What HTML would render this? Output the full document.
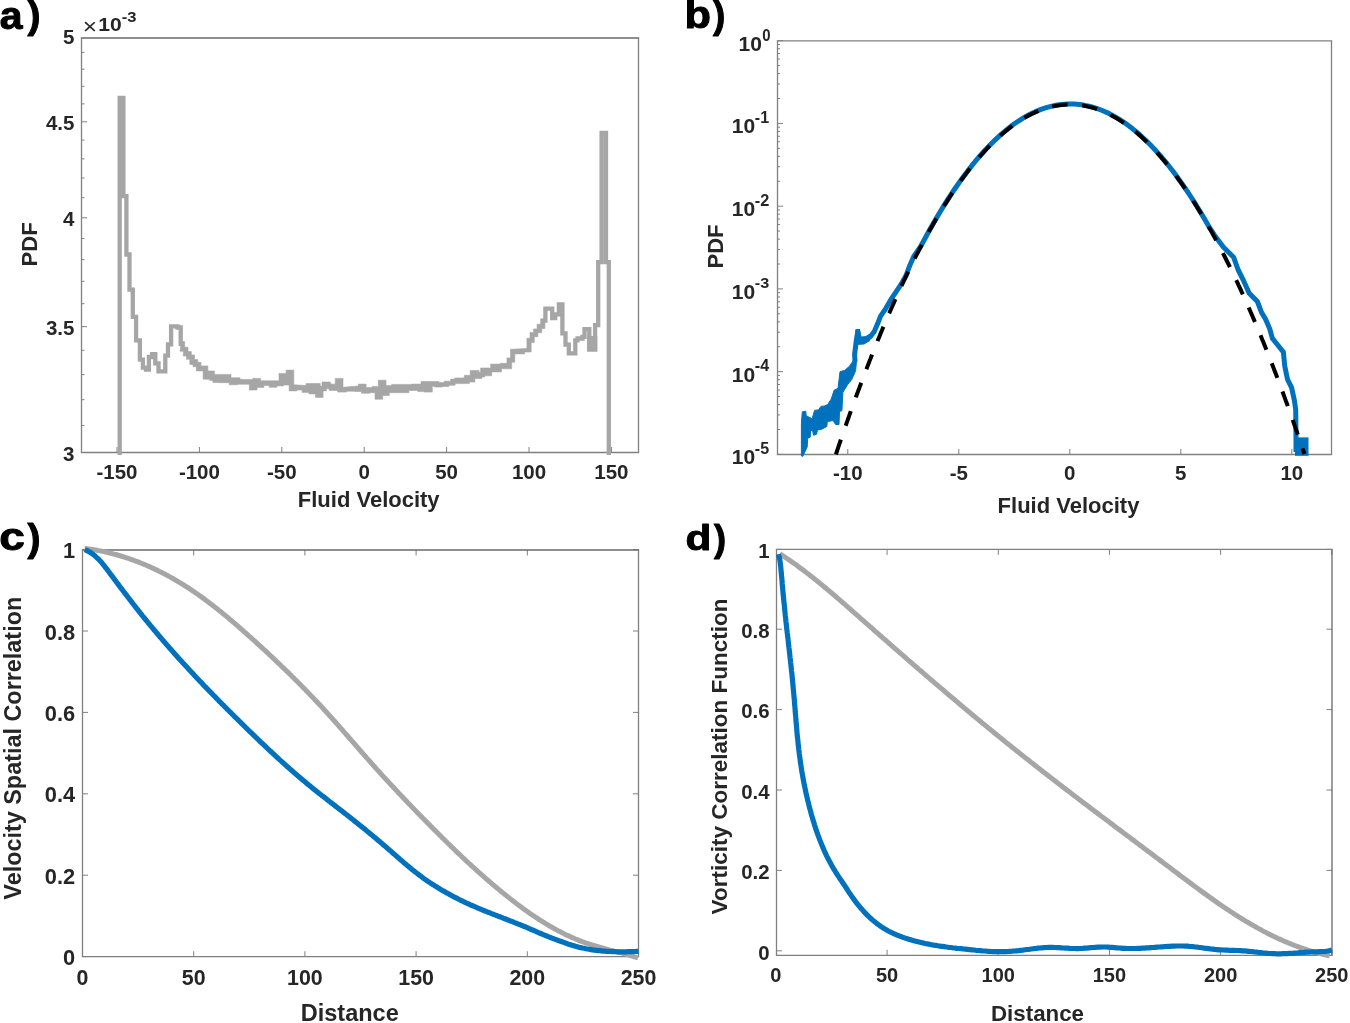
<!DOCTYPE html>
<html><head><meta charset="utf-8"><style>
html,body{margin:0;padding:0;background:#fff;width:1350px;height:1023px;overflow:hidden;}
svg{display:block;}
text{font-family:"Liberation Sans",sans-serif;}
svg{will-change:transform;}
</style></head><body>
<svg width="1350" height="1023" viewBox="0 0 1350 1023" font-family="Liberation Sans, sans-serif"><line x1="117.00" y1="452.50" x2="117.00" y2="447.00" stroke="#808080" stroke-width="1"/>
<line x1="199.40" y1="452.50" x2="199.40" y2="447.00" stroke="#808080" stroke-width="1"/>
<line x1="281.80" y1="452.50" x2="281.80" y2="447.00" stroke="#808080" stroke-width="1"/>
<line x1="364.20" y1="452.50" x2="364.20" y2="447.00" stroke="#808080" stroke-width="1"/>
<line x1="446.60" y1="452.50" x2="446.60" y2="447.00" stroke="#808080" stroke-width="1"/>
<line x1="529.00" y1="452.50" x2="529.00" y2="447.00" stroke="#808080" stroke-width="1"/>
<line x1="611.40" y1="452.50" x2="611.40" y2="447.00" stroke="#808080" stroke-width="1"/>
<line x1="81.50" y1="326.65" x2="87.00" y2="326.65" stroke="#808080" stroke-width="1"/>
<line x1="81.50" y1="217.80" x2="87.00" y2="217.80" stroke="#808080" stroke-width="1"/>
<line x1="81.50" y1="121.79" x2="87.00" y2="121.79" stroke="#808080" stroke-width="1"/>
<line x1="81.50" y1="425.58" x2="84.50" y2="425.58" stroke="#808080" stroke-width="1"/>
<line x1="81.50" y1="399.70" x2="84.50" y2="399.70" stroke="#808080" stroke-width="1"/>
<line x1="81.50" y1="374.62" x2="84.50" y2="374.62" stroke="#808080" stroke-width="1"/>
<line x1="81.50" y1="350.28" x2="84.50" y2="350.28" stroke="#808080" stroke-width="1"/>
<line x1="81.50" y1="303.69" x2="84.50" y2="303.69" stroke="#808080" stroke-width="1"/>
<line x1="81.50" y1="281.35" x2="84.50" y2="281.35" stroke="#808080" stroke-width="1"/>
<line x1="81.50" y1="259.61" x2="84.50" y2="259.61" stroke="#808080" stroke-width="1"/>
<line x1="81.50" y1="238.44" x2="84.50" y2="238.44" stroke="#808080" stroke-width="1"/>
<line x1="81.50" y1="197.67" x2="84.50" y2="197.67" stroke="#808080" stroke-width="1"/>
<line x1="81.50" y1="178.03" x2="84.50" y2="178.03" stroke="#808080" stroke-width="1"/>
<line x1="81.50" y1="158.85" x2="84.50" y2="158.85" stroke="#808080" stroke-width="1"/>
<line x1="81.50" y1="140.11" x2="84.50" y2="140.11" stroke="#808080" stroke-width="1"/>
<line x1="81.50" y1="103.87" x2="84.50" y2="103.87" stroke="#808080" stroke-width="1"/>
<line x1="81.50" y1="86.34" x2="84.50" y2="86.34" stroke="#808080" stroke-width="1"/>
<line x1="81.50" y1="69.18" x2="84.50" y2="69.18" stroke="#808080" stroke-width="1"/>
<line x1="81.50" y1="52.37" x2="84.50" y2="52.37" stroke="#808080" stroke-width="1"/>
<line x1="847.80" y1="454.50" x2="847.80" y2="449.00" stroke="#808080" stroke-width="1"/>
<line x1="958.80" y1="454.50" x2="958.80" y2="449.00" stroke="#808080" stroke-width="1"/>
<line x1="1069.80" y1="454.50" x2="1069.80" y2="449.00" stroke="#808080" stroke-width="1"/>
<line x1="1180.80" y1="454.50" x2="1180.80" y2="449.00" stroke="#808080" stroke-width="1"/>
<line x1="1291.80" y1="454.50" x2="1291.80" y2="449.00" stroke="#808080" stroke-width="1"/>
<line x1="777.50" y1="454.40" x2="783.00" y2="454.40" stroke="#808080" stroke-width="1"/>
<line x1="777.50" y1="429.49" x2="780.00" y2="429.49" stroke="#808080" stroke-width="1"/>
<line x1="777.50" y1="414.92" x2="780.00" y2="414.92" stroke="#808080" stroke-width="1"/>
<line x1="777.50" y1="404.59" x2="780.00" y2="404.59" stroke="#808080" stroke-width="1"/>
<line x1="777.50" y1="396.57" x2="780.00" y2="396.57" stroke="#808080" stroke-width="1"/>
<line x1="777.50" y1="390.02" x2="780.00" y2="390.02" stroke="#808080" stroke-width="1"/>
<line x1="777.50" y1="384.48" x2="780.00" y2="384.48" stroke="#808080" stroke-width="1"/>
<line x1="777.50" y1="379.68" x2="780.00" y2="379.68" stroke="#808080" stroke-width="1"/>
<line x1="777.50" y1="375.45" x2="780.00" y2="375.45" stroke="#808080" stroke-width="1"/>
<line x1="777.50" y1="371.66" x2="783.00" y2="371.66" stroke="#808080" stroke-width="1"/>
<line x1="777.50" y1="346.75" x2="780.00" y2="346.75" stroke="#808080" stroke-width="1"/>
<line x1="777.50" y1="332.18" x2="780.00" y2="332.18" stroke="#808080" stroke-width="1"/>
<line x1="777.50" y1="321.85" x2="780.00" y2="321.85" stroke="#808080" stroke-width="1"/>
<line x1="777.50" y1="313.83" x2="780.00" y2="313.83" stroke="#808080" stroke-width="1"/>
<line x1="777.50" y1="307.28" x2="780.00" y2="307.28" stroke="#808080" stroke-width="1"/>
<line x1="777.50" y1="301.74" x2="780.00" y2="301.74" stroke="#808080" stroke-width="1"/>
<line x1="777.50" y1="296.94" x2="780.00" y2="296.94" stroke="#808080" stroke-width="1"/>
<line x1="777.50" y1="292.71" x2="780.00" y2="292.71" stroke="#808080" stroke-width="1"/>
<line x1="777.50" y1="288.92" x2="783.00" y2="288.92" stroke="#808080" stroke-width="1"/>
<line x1="777.50" y1="264.01" x2="780.00" y2="264.01" stroke="#808080" stroke-width="1"/>
<line x1="777.50" y1="249.44" x2="780.00" y2="249.44" stroke="#808080" stroke-width="1"/>
<line x1="777.50" y1="239.11" x2="780.00" y2="239.11" stroke="#808080" stroke-width="1"/>
<line x1="777.50" y1="231.09" x2="780.00" y2="231.09" stroke="#808080" stroke-width="1"/>
<line x1="777.50" y1="224.54" x2="780.00" y2="224.54" stroke="#808080" stroke-width="1"/>
<line x1="777.50" y1="219.00" x2="780.00" y2="219.00" stroke="#808080" stroke-width="1"/>
<line x1="777.50" y1="214.20" x2="780.00" y2="214.20" stroke="#808080" stroke-width="1"/>
<line x1="777.50" y1="209.97" x2="780.00" y2="209.97" stroke="#808080" stroke-width="1"/>
<line x1="777.50" y1="206.18" x2="783.00" y2="206.18" stroke="#808080" stroke-width="1"/>
<line x1="777.50" y1="181.27" x2="780.00" y2="181.27" stroke="#808080" stroke-width="1"/>
<line x1="777.50" y1="166.70" x2="780.00" y2="166.70" stroke="#808080" stroke-width="1"/>
<line x1="777.50" y1="156.37" x2="780.00" y2="156.37" stroke="#808080" stroke-width="1"/>
<line x1="777.50" y1="148.35" x2="780.00" y2="148.35" stroke="#808080" stroke-width="1"/>
<line x1="777.50" y1="141.80" x2="780.00" y2="141.80" stroke="#808080" stroke-width="1"/>
<line x1="777.50" y1="136.26" x2="780.00" y2="136.26" stroke="#808080" stroke-width="1"/>
<line x1="777.50" y1="131.46" x2="780.00" y2="131.46" stroke="#808080" stroke-width="1"/>
<line x1="777.50" y1="127.23" x2="780.00" y2="127.23" stroke="#808080" stroke-width="1"/>
<line x1="777.50" y1="123.44" x2="783.00" y2="123.44" stroke="#808080" stroke-width="1"/>
<line x1="777.50" y1="98.53" x2="780.00" y2="98.53" stroke="#808080" stroke-width="1"/>
<line x1="777.50" y1="83.96" x2="780.00" y2="83.96" stroke="#808080" stroke-width="1"/>
<line x1="777.50" y1="73.63" x2="780.00" y2="73.63" stroke="#808080" stroke-width="1"/>
<line x1="777.50" y1="65.61" x2="780.00" y2="65.61" stroke="#808080" stroke-width="1"/>
<line x1="777.50" y1="59.06" x2="780.00" y2="59.06" stroke="#808080" stroke-width="1"/>
<line x1="777.50" y1="53.52" x2="780.00" y2="53.52" stroke="#808080" stroke-width="1"/>
<line x1="777.50" y1="48.72" x2="780.00" y2="48.72" stroke="#808080" stroke-width="1"/>
<line x1="777.50" y1="44.49" x2="780.00" y2="44.49" stroke="#808080" stroke-width="1"/>
<line x1="777.50" y1="40.70" x2="783.00" y2="40.70" stroke="#808080" stroke-width="1"/>
<line x1="82.50" y1="956.70" x2="82.50" y2="951.20" stroke="#808080" stroke-width="1"/>
<line x1="82.50" y1="550.00" x2="82.50" y2="555.50" stroke="#808080" stroke-width="1"/>
<line x1="193.70" y1="956.70" x2="193.70" y2="951.20" stroke="#808080" stroke-width="1"/>
<line x1="193.70" y1="550.00" x2="193.70" y2="555.50" stroke="#808080" stroke-width="1"/>
<line x1="304.90" y1="956.70" x2="304.90" y2="951.20" stroke="#808080" stroke-width="1"/>
<line x1="304.90" y1="550.00" x2="304.90" y2="555.50" stroke="#808080" stroke-width="1"/>
<line x1="416.10" y1="956.70" x2="416.10" y2="951.20" stroke="#808080" stroke-width="1"/>
<line x1="416.10" y1="550.00" x2="416.10" y2="555.50" stroke="#808080" stroke-width="1"/>
<line x1="527.30" y1="956.70" x2="527.30" y2="951.20" stroke="#808080" stroke-width="1"/>
<line x1="527.30" y1="550.00" x2="527.30" y2="555.50" stroke="#808080" stroke-width="1"/>
<line x1="638.50" y1="956.70" x2="638.50" y2="951.20" stroke="#808080" stroke-width="1"/>
<line x1="638.50" y1="550.00" x2="638.50" y2="555.50" stroke="#808080" stroke-width="1"/>
<line x1="82.50" y1="956.60" x2="88.00" y2="956.60" stroke="#808080" stroke-width="1"/>
<line x1="638.50" y1="956.60" x2="633.00" y2="956.60" stroke="#808080" stroke-width="1"/>
<line x1="82.50" y1="875.20" x2="88.00" y2="875.20" stroke="#808080" stroke-width="1"/>
<line x1="638.50" y1="875.20" x2="633.00" y2="875.20" stroke="#808080" stroke-width="1"/>
<line x1="82.50" y1="793.80" x2="88.00" y2="793.80" stroke="#808080" stroke-width="1"/>
<line x1="638.50" y1="793.80" x2="633.00" y2="793.80" stroke="#808080" stroke-width="1"/>
<line x1="82.50" y1="712.40" x2="88.00" y2="712.40" stroke="#808080" stroke-width="1"/>
<line x1="638.50" y1="712.40" x2="633.00" y2="712.40" stroke="#808080" stroke-width="1"/>
<line x1="82.50" y1="631.00" x2="88.00" y2="631.00" stroke="#808080" stroke-width="1"/>
<line x1="638.50" y1="631.00" x2="633.00" y2="631.00" stroke="#808080" stroke-width="1"/>
<line x1="82.50" y1="549.60" x2="88.00" y2="549.60" stroke="#808080" stroke-width="1"/>
<line x1="638.50" y1="549.60" x2="633.00" y2="549.60" stroke="#808080" stroke-width="1"/>
<line x1="776.50" y1="955.30" x2="776.50" y2="949.80" stroke="#808080" stroke-width="1"/>
<line x1="776.50" y1="549.40" x2="776.50" y2="554.90" stroke="#808080" stroke-width="1"/>
<line x1="887.08" y1="955.30" x2="887.08" y2="949.80" stroke="#808080" stroke-width="1"/>
<line x1="887.08" y1="549.40" x2="887.08" y2="554.90" stroke="#808080" stroke-width="1"/>
<line x1="998.26" y1="955.30" x2="998.26" y2="949.80" stroke="#808080" stroke-width="1"/>
<line x1="998.26" y1="549.40" x2="998.26" y2="554.90" stroke="#808080" stroke-width="1"/>
<line x1="1109.44" y1="955.30" x2="1109.44" y2="949.80" stroke="#808080" stroke-width="1"/>
<line x1="1109.44" y1="549.40" x2="1109.44" y2="554.90" stroke="#808080" stroke-width="1"/>
<line x1="1220.62" y1="955.30" x2="1220.62" y2="949.80" stroke="#808080" stroke-width="1"/>
<line x1="1220.62" y1="549.40" x2="1220.62" y2="554.90" stroke="#808080" stroke-width="1"/>
<line x1="1331.80" y1="955.30" x2="1331.80" y2="949.80" stroke="#808080" stroke-width="1"/>
<line x1="1331.80" y1="549.40" x2="1331.80" y2="554.90" stroke="#808080" stroke-width="1"/>
<line x1="776.50" y1="950.80" x2="782.00" y2="950.80" stroke="#808080" stroke-width="1"/>
<line x1="1332.00" y1="950.80" x2="1326.50" y2="950.80" stroke="#808080" stroke-width="1"/>
<line x1="776.50" y1="870.40" x2="782.00" y2="870.40" stroke="#808080" stroke-width="1"/>
<line x1="1332.00" y1="870.40" x2="1326.50" y2="870.40" stroke="#808080" stroke-width="1"/>
<line x1="776.50" y1="790.00" x2="782.00" y2="790.00" stroke="#808080" stroke-width="1"/>
<line x1="1332.00" y1="790.00" x2="1326.50" y2="790.00" stroke="#808080" stroke-width="1"/>
<line x1="776.50" y1="709.60" x2="782.00" y2="709.60" stroke="#808080" stroke-width="1"/>
<line x1="1332.00" y1="709.60" x2="1326.50" y2="709.60" stroke="#808080" stroke-width="1"/>
<line x1="776.50" y1="629.20" x2="782.00" y2="629.20" stroke="#808080" stroke-width="1"/>
<line x1="1332.00" y1="629.20" x2="1326.50" y2="629.20" stroke="#808080" stroke-width="1"/>
<line x1="776.50" y1="549.40" x2="782.00" y2="549.40" stroke="#808080" stroke-width="1"/>
<line x1="1332.00" y1="549.40" x2="1326.50" y2="549.40" stroke="#808080" stroke-width="1"/>
<line x1="80.85" y1="38" x2="639.15" y2="38" stroke="#686868" stroke-width="1.3"/>
<line x1="80.85" y1="452.5" x2="639.15" y2="452.5" stroke="#808080" stroke-width="1.3"/>
<line x1="81.5" y1="38" x2="81.5" y2="452.5" stroke="#808080" stroke-width="1.3"/>
<line x1="638.5" y1="38" x2="638.5" y2="452.5" stroke="#808080" stroke-width="1.3"/>
<line x1="776.85" y1="40.8" x2="1332.15" y2="40.8" stroke="#808080" stroke-width="1.3"/>
<line x1="776.85" y1="454.5" x2="1332.15" y2="454.5" stroke="#808080" stroke-width="1.3"/>
<line x1="777.5" y1="40.8" x2="777.5" y2="454.5" stroke="#808080" stroke-width="1.3"/>
<line x1="1331.5" y1="40.8" x2="1331.5" y2="454.5" stroke="#808080" stroke-width="1.3"/>
<line x1="81.85" y1="550" x2="639.15" y2="550" stroke="#686868" stroke-width="1.3"/>
<line x1="81.85" y1="956.7" x2="639.15" y2="956.7" stroke="#808080" stroke-width="1.3"/>
<line x1="82.5" y1="550" x2="82.5" y2="956.7" stroke="#808080" stroke-width="1.3"/>
<line x1="638.5" y1="550" x2="638.5" y2="956.7" stroke="#808080" stroke-width="1.3"/>
<line x1="775.85" y1="549.4" x2="1332.65" y2="549.4" stroke="#808080" stroke-width="1.3"/>
<line x1="775.85" y1="955.3" x2="1332.65" y2="955.3" stroke="#808080" stroke-width="1.3"/>
<line x1="776.5" y1="549.4" x2="776.5" y2="955.3" stroke="#808080" stroke-width="1.3"/>
<line x1="1332" y1="549.4" x2="1332" y2="955.3" stroke="#686868" stroke-width="1.3"/>
<path d="M181.2,341.6 L184.7,341.6 L184.7,347.2 L188.0,347.2 L188.0,351.6 L191.3,351.6 L191.3,354.9 L194.5,354.9 L194.5,359.6 L197.8,359.6 L197.8,362.3 L201.0,362.3 L201.0,365.9 L207.9,365.9 L207.9,370.9 L214.4,370.9 L214.4,374.4 L231.0,374.4 L231.0,377.7 L239.9,377.7 L239.9,379.2 L244.6,379.5 L244.6,379.5 L252.9,379.5 L252.9,378.3 L255.0,378.3 L255.0,378.4 L260.6,378.4 L260.6,380.8 L279.0,380.8 L279.0,373.4 L286.1,373.4 L286.1,370.1 L293.8,370.1 L293.8,384.7 L306.0,385.6 L306.0,383.5 L320.2,383.5 L320.2,386.1 L322.0,386.1 L322.0,382.0 L330.3,382.0 L330.3,383.8 L335.0,384.4 L335.0,383.2 L335.3,383.2 L335.3,378.4 L343.0,378.4 L343.0,387.3 L358.4,385.9 L358.4,384.1 L366.1,384.1 L366.1,387.6 L372.1,387.6 L372.1,386.4 L378.3,386.4 L378.3,380.2 L386.0,380.2 L386.0,385.6 L391.6,385.6 L391.6,384.4 L405.0,384.4 L405.0,384.4 L411.5,384.4 L411.5,384.1 L421.0,384.1 L421.0,381.5 L438.8,381.5 L438.8,382.4 L444.1,382.4 L444.1,381.2 L450.6,381.2 L450.6,379.1 L454.8,379.1 L454.8,377.9 L464.3,377.9 L464.3,375.3 L470.2,375.3 L470.2,370.5 L479.1,370.5 L479.1,372.6 L480.6,372.6 L480.6,368.0 L490.6,368.0 L490.6,364.1 L500.3,364.1 L500.3,363.3 L507.0,363.3 L507.0,357.9 L510.5,357.9 L510.5,349.3 L526.9,348.5 L526.9,338.3 L530.0,338.3 L530.0,332.4 L533.6,332.4 L533.6,328.9 L537.1,328.9 L537.1,324.2 L540.6,324.2 L540.6,318.8 L543.7,318.8 L546.0,322.7 L544.9,322.7 L544.9,328.5 L541.8,328.5 L541.8,332.8 L537.9,332.8 L537.9,336.7 L534.3,336.7 L534.3,342.6 L531.2,342.6 L531.2,352.0 L524.6,352.0 L524.6,353.9 L514.8,353.9 L514.8,362.2 L511.7,362.2 L511.7,368.8 L501.5,368.8 L501.5,371.9 L491.7,371.9 L491.7,375.8 L484.7,375.8 L484.7,377.0 L482.0,377.0 L482.0,378.4 L474.9,378.4 L474.9,382.1 L469.4,382.1 L469.4,383.6 L455.1,383.6 L455.1,385.3 L448.9,385.3 L448.9,386.5 L442.3,386.5 L442.3,387.1 L434.6,387.1 L434.6,386.2 L432.3,386.2 L432.3,392.1 L424.0,392.1 L424.0,391.6 L417.7,391.6 L417.7,390.4 L408.9,390.4 L408.9,392.7 L389.3,392.7 L389.3,395.6 L382.7,395.6 L382.7,399.2 L375.0,399.2 L375.0,392.7 L369.7,392.7 L369.7,393.3 L361.4,393.3 L361.4,391.5 L354.9,391.5 L354.9,391.2 L346.6,391.2 L346.6,392.1 L337.7,392.1 L337.7,390.4 L329.1,390.4 L329.1,388.8 L326.4,388.8 L326.4,390.9 L323.1,390.9 L323.1,397.4 L315.4,397.4 L315.4,393.9 L308.9,393.9 L308.9,392.4 L302.1,392.4 L302.1,390.0 L296.8,390.0 L296.8,390.9 L289.1,390.9 L289.1,385.0 L283.4,385.0 L283.4,385.9 L276.9,385.9 L276.9,387.3 L269.2,387.3 L269.2,385.6 L263.9,385.6 L263.9,387.4 L257.0,387.4 L257.0,390.0 L249.3,390.0 L249.3,384.2 L237.5,384.2 L237.5,384.8 L229.2,384.8 L229.2,382.7 L219.1,382.7 L219.1,382.4 L212.9,382.4 L212.9,380.4 L209.6,380.4 L209.6,379.2 L203.1,379.2 L203.1,370.9 L196.3,370.9 L196.3,366.7 L193.0,366.7 L193.0,364.4 L189.8,364.4 L189.8,359.3 L186.5,359.3 L186.5,356.1 L183.3,356.1 L183.3,351.3 L180.0,351.3Z" fill="#a6a6a6" stroke="#a6a6a6" stroke-width="0.6" stroke-linejoin="miter"/>
<path d="M119.7,455.0 L119.7,97.9 L123.4,97.9 L123.4,196.1 L126.4,196.1 L126.4,254.5 L129.5,254.5 L129.5,289.6 L132.8,289.6 L132.8,316.8 L136.1,316.8 L136.1,340.4 L139.9,340.4 L139.9,359.6 L142.9,359.6 L142.9,367.6 L146.0,367.6 L146.0,369.5 L148.9,369.5 L148.9,357.0 L152.1,357.0 L152.1,354.2 L155.3,354.2 L155.3,363.3 L158.5,363.3 L158.5,371.4 L165.3,371.4 L165.3,355.7 L168.0,355.7 L168.0,344.3 L171.1,344.3 L171.1,326.4 L177.5,326.4 L177.5,327.5 L180.7,327.5 L180.7,343.8 L183.5,343.8" fill="none" stroke="#a6a6a6" stroke-width="4.3" stroke-linejoin="miter" stroke-linecap="butt"/>
<path d="M545.4,322.7 L545.4,308.6 L552.2,308.6 L552.2,318.1 L555.2,318.1 L555.2,314.3 L558.9,314.3 L558.9,304.5 L562.4,304.5 L562.4,333.3 L565.5,333.3 L565.5,344.6 L568.8,344.6 L568.8,353.3 L575.3,353.3 L575.3,340.4 L577.5,340.4 L577.5,338.5 L582.5,338.5 L582.5,336.9 L584.5,336.9 L584.5,329.1 L589.3,329.1 L589.3,349.3 L595.1,349.3 L595.1,325.2 L598.2,325.2 L598.2,262.2 L601.6,262.2 L601.6,132.8 L606.0,132.8 L606.0,262.2 L608.8,262.2 L608.8,455.0" fill="none" stroke="#a6a6a6" stroke-width="4.3" stroke-linejoin="miter" stroke-linecap="butt"/>
<rect x="587.2" y="335.9" width="10.1" height="15.6" fill="#a6a6a6"/>
<path d="M801.4,456.0 L801.4,423.5 L802.3,411.8 L805.8,411.3 L806.2,415.7 L812.1,418.7 L814.6,410.3 L818.5,409.9 L820.9,406.4 L824.3,406.0 L827.7,404.5 L831.2,399.1 L834.1,390.3 L838.0,388.3 L840.0,371.7 L844.9,370.3 L849.7,365.9 L853.7,360.0 L856.6,360.0 L855.6,370.8 L851.7,379.6 L847.8,384.4 L842.9,392.3 L841.9,410.8 L839.5,411.3 L839.0,424.5 L835.6,424.5 L833.1,420.6 L827.3,421.6 L826.8,426.5 L821.4,429.4 L817.5,429.9 L816.5,434.3 L813.6,435.3 L812.5,430.4 L810.6,430.4 L810.2,437.2 L807.7,438.2 L807.2,447.0 L802.8,456.3Z" fill="#0072bd" stroke="#0072bd" stroke-width="1" stroke-linejoin="round"/>
<path d="M855.0,362.0 L854.6,354.4 L856.5,339.1 L857.8,331.5 L859.7,340.3 L865.4,340.3 L870.5,336.5 L874.3,331.4 L878.1,322.5 L880.6,316.2 L885.7,308.6 L890.8,299.7 L895.9,292.1 L901.0,284.4 L906.0,275.6 L909.8,265.4 L913.7,256.5 L921.0,245.8 L924.0,240.2 L927.0,234.7 L930.0,229.2 L933.0,223.9 L936.0,218.8 L939.0,213.7 L942.0,208.7 L945.0,203.9 L948.0,199.2 L951.0,194.5 L954.0,190.0 L957.0,185.7 L960.0,181.4 L963.0,177.2 L966.0,173.2 L969.0,169.3 L972.0,165.4 L975.0,161.7 L978.0,158.2 L981.0,154.7 L984.0,151.3 L987.0,148.1 L990.0,145.0 L993.0,142.0 L996.0,139.1 L999.0,136.3 L1002.0,133.6 L1005.0,131.1 L1008.0,128.7 L1011.0,126.3 L1014.0,124.1 L1017.0,122.0 L1020.0,120.1 L1023.0,118.2 L1026.0,116.4 L1029.0,114.8 L1032.0,113.3 L1035.0,111.9 L1038.0,110.6 L1041.0,109.4 L1044.0,108.4 L1047.0,107.4 L1050.0,106.6 L1053.0,105.9 L1056.0,105.3 L1059.0,104.8 L1062.0,104.4 L1065.0,104.2 L1068.0,104.0 L1071.0,104.0 L1074.0,104.1 L1077.0,104.3 L1080.0,104.6 L1083.0,105.0 L1086.0,105.6 L1089.0,106.3 L1092.0,107.0 L1095.0,107.9 L1098.0,108.9 L1101.0,110.0 L1104.0,111.3 L1107.0,112.6 L1110.0,114.1 L1113.0,115.7 L1116.0,117.4 L1119.0,119.2 L1122.0,121.1 L1125.0,123.1 L1128.0,125.3 L1131.0,127.6 L1134.0,129.9 L1137.0,132.4 L1140.0,135.0 L1143.0,137.8 L1146.0,140.6 L1149.0,143.6 L1152.0,146.6 L1155.0,149.8 L1158.0,153.1 L1161.0,156.5 L1164.0,160.1 L1167.0,163.7 L1170.0,167.5 L1173.0,171.3 L1176.0,175.3 L1179.0,179.4 L1182.0,183.6 L1185.0,188.0 L1188.0,192.4 L1191.0,197.0 L1194.0,201.7 L1197.0,206.5 L1200.0,211.4 L1203.0,216.4 L1206.0,221.5 L1209.0,226.8 L1214.5,235.2 L1223.3,246.9 L1233.6,257.2 L1238.2,270.0 L1243.7,280.9 L1249.2,293.3 L1257.4,301.5 L1261.5,312.4 L1265.6,319.2 L1269.7,328.8 L1272.4,338.4 L1277.9,345.2 L1283.4,352.1 L1284.7,365.8 L1287.5,379.4 L1291.6,387.6 L1294.3,400.0 L1295.7,409.5 L1296.0,438.0 L1296.0,452.0" fill="none" stroke="#0072bd" stroke-width="5.0" stroke-linejoin="round" />
<rect x="1295" y="437.4" width="13.5" height="18.4" fill="#0072bd"/>
<path d="M853.5,358 L855.5,329 L860,329 L861,336.5 L866,336 L869,334 L870,341 L864,344.5 L857,345Z" fill="#0072bd"/>
<path d="M835.9,454.3 L836.4,452.8 L836.9,451.3 L837.4,449.8 L837.9,448.4 L838.4,446.9 L838.9,445.4 L839.4,443.9 L839.9,442.5 L840.4,441.0 L840.9,439.5 L841.4,438.1 L841.9,436.6 L842.4,435.2 L842.9,433.7 L843.4,432.3 L843.9,430.8 L844.4,429.4 L844.9,427.9 L845.4,426.5 L845.9,425.1 L846.4,423.7 L846.9,422.2 L847.4,420.8 L847.9,419.4 L848.4,418.0 L848.9,416.6 L849.4,415.2 L849.9,413.7 L850.4,412.3 L850.9,410.9 L851.4,409.5 L851.9,408.2 L852.4,406.8 L852.9,405.4 L853.4,404.0 L853.9,402.6 L854.4,401.2 L854.9,399.9 L855.4,398.5 L855.9,397.1 L856.4,395.8 L856.9,394.4 L857.4,393.0 L857.9,391.7 L858.4,390.3 L858.9,389.0 L859.4,387.7 L859.9,386.3 L860.4,385.0 L860.9,383.6 L861.4,382.3 L861.9,381.0 L862.4,379.6 L862.9,378.3 L863.4,377.0 L863.9,375.7 L864.4,374.4 L864.9,373.1 L865.4,371.8 L865.9,370.5 L866.4,369.2 L866.9,367.9 L867.4,366.6 L867.9,365.3 L868.4,364.0 L868.9,362.7 L869.4,361.4 L869.9,360.1 L870.4,358.9 L870.9,357.6 L871.4,356.3 L871.9,355.1 L872.4,353.8 L872.9,352.5 L873.4,351.3 L873.9,350.0 L874.4,348.8 L874.9,347.5 L875.4,346.3 L875.9,345.1 L876.4,343.8 L876.9,342.6 L877.4,341.4 L877.9,340.1 L878.4,338.9 L878.9,337.7 L879.4,336.5 L879.9,335.3 L880.4,334.0 L880.9,332.8 L881.4,331.6 L881.9,330.4 L882.4,329.2 L882.9,328.0 L883.4,326.8 L883.9,325.7 L884.4,324.5 L884.9,323.3 L885.4,322.1 L885.9,320.9 L886.4,319.8 L886.9,318.6 L887.4,317.4 L887.9,316.3 L888.4,315.1 L888.9,313.9 L889.4,312.8 L889.9,311.6 L890.4,310.5 L890.9,309.4 L891.4,308.2 L891.9,307.1 L892.4,305.9 L892.9,304.8 L893.4,303.7 L893.9,302.6 L894.4,301.4 L894.9,300.3 L895.4,299.2 L895.9,298.1 L896.4,297.0 L896.9,295.9 L897.4,294.8 L897.9,293.7 L898.4,292.6 L898.9,291.5 L899.4,290.4 L899.9,289.3 L900.4,288.2 L900.9,287.1 L901.4,286.1 L901.9,285.0 L902.4,283.9 L902.9,282.8 L903.4,281.8 L903.9,280.7 L904.4,279.7 L904.9,278.6 L905.4,277.6 L905.9,276.5 L906.4,275.5 L906.9,274.4 L907.4,273.4 L907.9,272.3 L908.4,271.3 L908.9,270.3 L909.4,269.3 L909.9,268.2 L910.4,267.2 L910.9,266.2 L911.4,265.2 L911.9,264.2 L912.4,263.2 L912.9,262.2 L913.4,261.2 L913.9,260.2 L914.4,259.2 L914.9,258.2 L915.4,257.2 L915.9,256.2 L916.4,255.2 L916.9,254.2 L917.4,253.3 L917.9,252.3 L918.4,251.3 L918.9,250.4 L919.4,249.4 L919.9,248.4 L920.4,247.5 L920.9,246.5 L921.4,245.6 L921.9,244.6 L922.4,243.7 L922.9,242.8 L923.4,241.8 L923.9,240.9 L924.4,240.0 L924.9,239.0 L925.4,238.1 L925.9,237.2 L926.4,236.3 L926.9,235.3 L927.4,234.4 L927.9,233.5 L928.4,232.6 L928.9,231.7 L929.4,230.8 L929.9,229.9 L930.4,229.0 L930.9,228.1 L931.4,227.3 L931.9,226.4 L932.4,225.5 L932.9,224.6 L933.4,223.7 L933.9,222.9 L934.4,222.0 L934.9,221.1 L935.4,220.3 L935.9,219.4 L936.4,218.6 L936.9,217.7 L937.4,216.9 L937.9,216.0 L938.4,215.2 L938.9,214.4 L939.4,213.5 L939.9,212.7 L940.4,211.9 L940.9,211.0 L941.4,210.2 L941.9,209.4 L942.4,208.6 L942.9,207.8 L943.4,207.0 L943.9,206.1 L944.4,205.3 L944.9,204.5 L945.4,203.7 L945.9,203.0 L946.4,202.2 L946.9,201.4 L947.4,200.6 L947.9,199.8 L948.4,199.0 L948.9,198.3 L949.4,197.5 L949.9,196.7 L950.4,196.0 L950.9,195.2 L951.4,194.4 L951.9,193.7 L952.4,192.9 L952.9,192.2 L953.4,191.4 L953.9,190.7 L954.4,189.9 L954.9,189.2 L955.4,188.5 L955.9,187.7 L956.4,187.0 L956.9,186.3 L957.4,185.6 L957.9,184.9 L958.4,184.1 L958.9,183.4 L959.4,182.7 L959.9,182.0 L960.4,181.3 L960.9,180.6 L961.4,179.9 L961.9,179.2 L962.4,178.5 L962.9,177.9 L963.4,177.2 L963.9,176.5 L964.4,175.8 L964.9,175.2 L965.4,174.5 L965.9,173.8 L966.4,173.2 L966.9,172.5 L967.4,171.8 L967.9,171.2 L968.4,170.5 L968.9,169.9 L969.4,169.2 L969.9,168.6 L970.4,168.0 L970.9,167.3 L971.4,166.7 L971.9,166.1 L972.4,165.4 L972.9,164.8 L973.4,164.2 L973.9,163.6 L974.4,163.0 L974.9,162.4 L975.4,161.8 L975.9,161.2 L976.4,160.6 L976.9,160.0 L977.4,159.4 L977.9,158.8 L978.4,158.2 L978.9,157.6 L979.4,157.0 L979.9,156.5 L980.4,155.9 L980.9,155.3 L981.4,154.7 L981.9,154.2 L982.4,153.6 L982.9,153.1 L983.4,152.5 L983.9,152.0 L984.4,151.4 L984.9,150.9 L985.4,150.3 L985.9,149.8 L986.4,149.2 L986.9,148.7 L987.4,148.2 L987.9,147.7 L988.4,147.1 L988.9,146.6 L989.4,146.1 L989.9,145.6 L990.4,145.1 L990.9,144.6 L991.4,144.1 L991.9,143.6 L992.4,143.1 L992.9,142.6 L993.4,142.1 L993.9,141.6 L994.4,141.1 L994.9,140.6 L995.4,140.2 L995.9,139.7 L996.4,139.2 L996.9,138.7 L997.4,138.3 L997.9,137.8 L998.4,137.3 L998.9,136.9 L999.4,136.4 L999.9,136.0 L1000.4,135.5 L1000.9,135.1 L1001.4,134.7 L1001.9,134.2 L1002.4,133.8 L1002.9,133.4 L1003.4,132.9 L1003.9,132.5 L1004.4,132.1 L1004.9,131.7 L1005.4,131.3 L1005.9,130.8 L1006.4,130.4 L1006.9,130.0 L1007.4,129.6 L1007.9,129.2 L1008.4,128.8 L1008.9,128.4 L1009.4,128.1 L1009.9,127.7 L1010.4,127.3 L1010.9,126.9 L1011.4,126.5 L1011.9,126.2 L1012.4,125.8 L1012.9,125.4 L1013.4,125.1 L1013.9,124.7 L1014.4,124.3 L1014.9,124.0 L1015.4,123.6 L1015.9,123.3 L1016.4,122.9 L1016.9,122.6 L1017.4,122.3 L1017.9,121.9 L1018.4,121.6 L1018.9,121.3 L1019.4,120.9 L1019.9,120.6 L1020.4,120.3 L1020.9,120.0 L1021.4,119.7 L1021.9,119.4 L1022.4,119.1 L1022.9,118.8 L1023.4,118.5 L1023.9,118.2 L1024.4,117.9 L1024.9,117.6 L1025.4,117.3 L1025.9,117.0 L1026.4,116.7 L1026.9,116.4 L1027.4,116.2 L1027.9,115.9 L1028.4,115.6 L1028.9,115.4 L1029.4,115.1 L1029.9,114.8 L1030.4,114.6 L1030.9,114.3 L1031.4,114.1 L1031.9,113.8 L1032.4,113.6 L1032.9,113.4 L1033.4,113.1 L1033.9,112.9 L1034.4,112.7 L1034.9,112.4 L1035.4,112.2 L1035.9,112.0 L1036.4,111.8 L1036.9,111.6 L1037.4,111.4 L1037.9,111.1 L1038.4,110.9 L1038.9,110.7 L1039.4,110.5 L1039.9,110.4 L1040.4,110.2 L1040.9,110.0 L1041.4,109.8 L1041.9,109.6 L1042.4,109.4 L1042.9,109.2 L1043.4,109.1 L1043.9,108.9 L1044.4,108.7 L1044.9,108.6 L1045.4,108.4 L1045.9,108.3 L1046.4,108.1 L1046.9,108.0 L1047.4,107.8 L1047.9,107.7 L1048.4,107.5 L1048.9,107.4 L1049.4,107.3 L1049.9,107.1 L1050.4,107.0 L1050.9,106.9 L1051.4,106.8 L1051.9,106.6 L1052.4,106.5 L1052.9,106.4 L1053.4,106.3 L1053.9,106.2 L1054.4,106.1 L1054.9,106.0 L1055.4,105.9 L1055.9,105.8 L1056.4,105.7 L1056.9,105.6 L1057.4,105.5 L1057.9,105.5 L1058.4,105.4 L1058.9,105.3 L1059.4,105.2 L1059.9,105.2 L1060.4,105.1 L1060.9,105.1 L1061.4,105.0 L1061.9,104.9 L1062.4,104.9 L1062.9,104.8 L1063.4,104.8 L1063.9,104.8 L1064.4,104.7 L1064.9,104.7 L1065.4,104.6 L1065.9,104.6 L1066.4,104.6 L1066.9,104.6 L1067.4,104.5 L1067.9,104.5 L1068.4,104.5 L1068.9,104.5 L1069.4,104.5 L1069.9,104.5 L1070.4,104.5 L1070.9,104.5 L1071.4,104.5 L1071.9,104.5 L1072.4,104.5 L1072.9,104.5 L1073.4,104.6 L1073.9,104.6 L1074.4,104.6 L1074.9,104.6 L1075.4,104.7 L1075.9,104.7 L1076.4,104.7 L1076.9,104.8 L1077.4,104.8 L1077.9,104.9 L1078.4,104.9 L1078.9,105.0 L1079.4,105.0 L1079.9,105.1 L1080.4,105.2 L1080.9,105.2 L1081.4,105.3 L1081.9,105.4 L1082.4,105.4 L1082.9,105.5 L1083.4,105.6 L1083.9,105.7 L1084.4,105.8 L1084.9,105.9 L1085.4,106.0 L1085.9,106.1 L1086.4,106.2 L1086.9,106.3 L1087.4,106.4 L1087.9,106.5 L1088.4,106.6 L1088.9,106.7 L1089.4,106.8 L1089.9,107.0 L1090.4,107.1 L1090.9,107.2 L1091.4,107.4 L1091.9,107.5 L1092.4,107.6 L1092.9,107.8 L1093.4,107.9 L1093.9,108.1 L1094.4,108.2 L1094.9,108.4 L1095.4,108.5 L1095.9,108.7 L1096.4,108.9 L1096.9,109.0 L1097.4,109.2 L1097.9,109.4 L1098.4,109.6 L1098.9,109.7 L1099.4,109.9 L1099.9,110.1 L1100.4,110.3 L1100.9,110.5 L1101.4,110.7 L1101.9,110.9 L1102.4,111.1 L1102.9,111.3 L1103.4,111.5 L1103.9,111.7 L1104.4,112.0 L1104.9,112.2 L1105.4,112.4 L1105.9,112.6 L1106.4,112.9 L1106.9,113.1 L1107.4,113.3 L1107.9,113.6 L1108.4,113.8 L1108.9,114.0 L1109.4,114.3 L1109.9,114.5 L1110.4,114.8 L1110.9,115.1 L1111.4,115.3 L1111.9,115.6 L1112.4,115.8 L1112.9,116.1 L1113.4,116.4 L1113.9,116.7 L1114.4,116.9 L1114.9,117.2 L1115.4,117.5 L1115.9,117.8 L1116.4,118.1 L1116.9,118.4 L1117.4,118.7 L1117.9,119.0 L1118.4,119.3 L1118.9,119.6 L1119.4,119.9 L1119.9,120.2 L1120.4,120.6 L1120.9,120.9 L1121.4,121.2 L1121.9,121.5 L1122.4,121.9 L1122.9,122.2 L1123.4,122.5 L1123.9,122.9 L1124.4,123.2 L1124.9,123.6 L1125.4,123.9 L1125.9,124.3 L1126.4,124.6 L1126.9,125.0 L1127.4,125.3 L1127.9,125.7 L1128.4,126.1 L1128.9,126.5 L1129.4,126.8 L1129.9,127.2 L1130.4,127.6 L1130.9,128.0 L1131.4,128.4 L1131.9,128.8 L1132.4,129.2 L1132.9,129.6 L1133.4,130.0 L1133.9,130.4 L1134.4,130.8 L1134.9,131.2 L1135.4,131.6 L1135.9,132.0 L1136.4,132.4 L1136.9,132.8 L1137.4,133.3 L1137.9,133.7 L1138.4,134.1 L1138.9,134.6 L1139.4,135.0 L1139.9,135.5 L1140.4,135.9 L1140.9,136.4 L1141.4,136.8 L1141.9,137.3 L1142.4,137.7 L1142.9,138.2 L1143.4,138.6 L1143.9,139.1 L1144.4,139.6 L1144.9,140.1 L1145.4,140.5 L1145.9,141.0 L1146.4,141.5 L1146.9,142.0 L1147.4,142.5 L1147.9,143.0 L1148.4,143.5 L1148.9,144.0 L1149.4,144.5 L1149.9,145.0 L1150.4,145.5 L1150.9,146.0 L1151.4,146.5 L1151.9,147.0 L1152.4,147.6 L1152.9,148.1 L1153.4,148.6 L1153.9,149.1 L1154.4,149.7 L1154.9,150.2 L1155.4,150.8 L1155.9,151.3 L1156.4,151.8 L1156.9,152.4 L1157.4,153.0 L1157.9,153.5 L1158.4,154.1 L1158.9,154.6 L1159.4,155.2 L1159.9,155.8 L1160.4,156.3 L1160.9,156.9 L1161.4,157.5 L1161.9,158.1 L1162.4,158.7 L1162.9,159.3 L1163.4,159.8 L1163.9,160.4 L1164.4,161.0 L1164.9,161.6 L1165.4,162.2 L1165.9,162.9 L1166.4,163.5 L1166.9,164.1 L1167.4,164.7 L1167.9,165.3 L1168.4,165.9 L1168.9,166.6 L1169.4,167.2 L1169.9,167.8 L1170.4,168.5 L1170.9,169.1 L1171.4,169.8 L1171.9,170.4 L1172.4,171.1 L1172.9,171.7 L1173.4,172.4 L1173.9,173.0 L1174.4,173.7 L1174.9,174.4 L1175.4,175.0 L1175.9,175.7 L1176.4,176.4 L1176.9,177.0 L1177.4,177.7 L1177.9,178.4 L1178.4,179.1 L1178.9,179.8 L1179.4,180.5 L1179.9,181.2 L1180.4,181.9 L1180.9,182.6 L1181.4,183.3 L1181.9,184.0 L1182.4,184.7 L1182.9,185.4 L1183.4,186.2 L1183.9,186.9 L1184.4,187.6 L1184.9,188.3 L1185.4,189.1 L1185.9,189.8 L1186.4,190.5 L1186.9,191.3 L1187.4,192.0 L1187.9,192.8 L1188.4,193.5 L1188.9,194.3 L1189.4,195.0 L1189.9,195.8 L1190.4,196.6 L1190.9,197.3 L1191.4,198.1 L1191.9,198.9 L1192.4,199.7 L1192.9,200.4 L1193.4,201.2 L1193.9,202.0 L1194.4,202.8 L1194.9,203.6 L1195.4,204.4 L1195.9,205.2 L1196.4,206.0 L1196.9,206.8 L1197.4,207.6 L1197.9,208.4 L1198.4,209.2 L1198.9,210.0 L1199.4,210.9 L1199.9,211.7 L1200.4,212.5 L1200.9,213.3 L1201.4,214.2 L1201.9,215.0 L1202.4,215.9 L1202.9,216.7 L1203.4,217.6 L1203.9,218.4 L1204.4,219.3 L1204.9,220.1 L1205.4,221.0 L1205.9,221.8 L1206.4,222.7 L1206.9,223.6 L1207.4,224.4 L1207.9,225.3 L1208.4,226.2 L1208.9,227.1 L1209.4,228.0 L1209.9,228.9 L1210.4,229.7 L1210.9,230.6 L1211.4,231.5 L1211.9,232.4 L1212.4,233.3 L1212.9,234.3 L1213.4,235.2 L1213.9,236.1 L1214.4,237.0 L1214.9,237.9 L1215.4,238.8 L1215.9,239.8 L1216.4,240.7 L1216.9,241.6 L1217.4,242.6 L1217.9,243.5 L1218.4,244.4 L1218.9,245.4 L1219.4,246.3 L1219.9,247.3 L1220.4,248.3 L1220.9,249.2 L1221.4,250.2 L1221.9,251.1 L1222.4,252.1 L1222.9,253.1 L1223.4,254.1 L1223.9,255.0 L1224.4,256.0 L1224.9,257.0 L1225.4,258.0 L1225.9,259.0 L1226.4,260.0 L1226.9,261.0 L1227.4,262.0 L1227.9,263.0 L1228.4,264.0 L1228.9,265.0 L1229.4,266.0 L1229.9,267.0 L1230.4,268.0 L1230.9,269.1 L1231.4,270.1 L1231.9,271.1 L1232.4,272.1 L1232.9,273.2 L1233.4,274.2 L1233.9,275.3 L1234.4,276.3 L1234.9,277.3 L1235.4,278.4 L1235.9,279.5 L1236.4,280.5 L1236.9,281.6 L1237.4,282.6 L1237.9,283.7 L1238.4,284.8 L1238.9,285.8 L1239.4,286.9 L1239.9,288.0 L1240.4,289.1 L1240.9,290.2 L1241.4,291.3 L1241.9,292.4 L1242.4,293.4 L1242.9,294.5 L1243.4,295.6 L1243.9,296.8 L1244.4,297.9 L1244.9,299.0 L1245.4,300.1 L1245.9,301.2 L1246.4,302.3 L1246.9,303.5 L1247.4,304.6 L1247.9,305.7 L1248.4,306.8 L1248.9,308.0 L1249.4,309.1 L1249.9,310.3 L1250.4,311.4 L1250.9,312.6 L1251.4,313.7 L1251.9,314.9 L1252.4,316.0 L1252.9,317.2 L1253.4,318.4 L1253.9,319.5 L1254.4,320.7 L1254.9,321.9 L1255.4,323.1 L1255.9,324.2 L1256.4,325.4 L1256.9,326.6 L1257.4,327.8 L1257.9,329.0 L1258.4,330.2 L1258.9,331.4 L1259.4,332.6 L1259.9,333.8 L1260.4,335.0 L1260.9,336.2 L1261.4,337.4 L1261.9,338.7 L1262.4,339.9 L1262.9,341.1 L1263.4,342.3 L1263.9,343.6 L1264.4,344.8 L1264.9,346.1 L1265.4,347.3 L1265.9,348.5 L1266.4,349.8 L1266.9,351.0 L1267.4,352.3 L1267.9,353.6 L1268.4,354.8 L1268.9,356.1 L1269.4,357.3 L1269.9,358.6 L1270.4,359.9 L1270.9,361.2 L1271.4,362.4 L1271.9,363.7 L1272.4,365.0 L1272.9,366.3 L1273.4,367.6 L1273.9,368.9 L1274.4,370.2 L1274.9,371.5 L1275.4,372.8 L1275.9,374.1 L1276.4,375.4 L1276.9,376.7 L1277.4,378.1 L1277.9,379.4 L1278.4,380.7 L1278.9,382.0 L1279.4,383.4 L1279.9,384.7 L1280.4,386.0 L1280.9,387.4 L1281.4,388.7 L1281.9,390.1 L1282.4,391.4 L1282.9,392.8 L1283.4,394.1 L1283.9,395.5 L1284.4,396.9 L1284.9,398.2 L1285.4,399.6 L1285.9,401.0 L1286.4,402.3 L1286.9,403.7 L1287.4,405.1 L1287.9,406.5 L1288.4,407.9 L1288.9,409.3 L1289.4,410.7 L1289.9,412.1 L1290.4,413.5 L1290.9,414.9 L1291.4,416.3 L1291.9,417.7 L1292.4,419.1 L1292.9,420.5 L1293.4,421.9 L1293.9,423.4 L1294.4,424.8 L1294.9,426.2 L1295.4,427.7 L1295.9,429.1 L1296.4,430.5 L1296.9,432.0 L1297.4,433.4 L1297.9,434.9 L1298.4,436.3 L1298.9,437.8 L1299.4,439.2 L1299.9,440.7 L1300.4,442.2 L1300.9,443.6 L1301.4,445.1 L1301.9,446.6 L1302.4,448.1 L1302.9,449.5 L1303.4,451.0 L1303.9,452.5 L1304.4,454.0" fill="none" stroke="#000" stroke-width="4.0" stroke-linejoin="round" stroke-dasharray="15.6 14.55" stroke-linecap="butt"/>
<path d="M84.7,548.4 L86.5,548.6 L88.2,548.9 L89.9,549.1 L91.7,549.4 L93.4,549.6 L95.1,549.9 L96.9,550.2 L98.6,550.6 L100.3,550.9 L102.0,551.2 L103.8,551.6 L105.5,552.0 L107.2,552.4 L108.9,552.8 L110.6,553.2 L112.3,553.6 L114.0,554.1 L115.7,554.5 L117.4,555.0 L119.1,555.5 L120.8,556.0 L122.5,556.5 L124.2,557.0 L125.8,557.6 L127.5,558.1 L129.2,558.7 L130.9,559.3 L132.5,559.9 L134.2,560.5 L135.8,561.1 L137.5,561.7 L139.1,562.3 L140.8,563.0 L142.4,563.7 L144.0,564.3 L145.7,565.0 L147.3,565.7 L148.9,566.4 L150.5,567.1 L152.1,567.9 L153.7,568.6 L155.3,569.4 L156.9,570.1 L158.5,570.9 L160.1,571.7 L161.7,572.5 L163.2,573.3 L164.8,574.1 L166.4,574.9 L167.9,575.7 L169.5,576.6 L171.0,577.4 L172.5,578.3 L174.1,579.2 L175.6,580.1 L177.1,581.0 L178.6,581.9 L180.1,582.8 L181.6,583.7 L183.1,584.6 L184.6,585.5 L186.0,586.5 L187.5,587.4 L189.0,588.4 L190.5,589.4 L191.9,590.3 L193.4,591.3 L194.8,592.3 L196.3,593.3 L197.7,594.3 L199.1,595.3 L200.6,596.3 L202.0,597.4 L203.4,598.4 L204.8,599.4 L206.2,600.5 L207.6,601.5 L209.0,602.6 L210.4,603.6 L211.8,604.7 L213.2,605.8 L214.6,606.9 L216.0,608.0 L217.4,609.0 L218.7,610.1 L220.1,611.2 L221.5,612.3 L222.8,613.5 L224.2,614.6 L225.6,615.7 L226.9,616.8 L228.3,617.9 L229.6,619.1 L231.0,620.2 L232.3,621.4 L233.6,622.5 L235.0,623.6 L236.3,624.8 L237.7,625.9 L239.0,627.1 L240.3,628.3 L241.6,629.4 L243.0,630.6 L244.3,631.8 L245.6,632.9 L246.9,634.1 L248.2,635.3 L249.5,636.5 L250.9,637.6 L252.2,638.8 L253.5,640.0 L254.8,641.2 L256.1,642.4 L257.4,643.6 L258.7,644.8 L260.0,645.9 L261.3,647.1 L262.6,648.3 L263.9,649.5 L265.2,650.7 L266.5,651.9 L267.8,653.1 L269.0,654.3 L270.3,655.5 L271.6,656.7 L272.9,657.9 L274.2,659.1 L275.5,660.4 L276.7,661.6 L278.0,662.8 L279.3,664.0 L280.6,665.2 L281.8,666.4 L283.1,667.7 L284.4,668.9 L285.6,670.1 L286.9,671.3 L288.2,672.6 L289.4,673.8 L290.7,675.0 L291.9,676.3 L293.2,677.5 L294.4,678.8 L295.7,680.0 L296.9,681.2 L298.2,682.5 L299.4,683.7 L300.7,685.0 L301.9,686.2 L303.1,687.5 L304.4,688.8 L305.6,690.0 L306.8,691.3 L308.0,692.5 L309.3,693.8 L310.5,695.1 L311.7,696.4 L312.9,697.6 L314.1,698.9 L315.3,700.2 L316.6,701.5 L317.8,702.8 L319.0,704.0 L320.2,705.3 L321.4,706.6 L322.6,707.9 L323.7,709.2 L324.9,710.5 L326.1,711.8 L327.3,713.1 L328.5,714.4 L329.7,715.7 L330.9,717.0 L332.0,718.3 L333.2,719.7 L334.4,721.0 L335.6,722.3 L336.7,723.6 L337.9,724.9 L339.1,726.3 L340.2,727.6 L341.4,728.9 L342.5,730.2 L343.7,731.6 L344.9,732.9 L346.0,734.2 L347.2,735.5 L348.3,736.9 L349.5,738.2 L350.7,739.5 L351.8,740.8 L353.0,742.2 L354.1,743.5 L355.3,744.8 L356.5,746.2 L357.6,747.5 L358.8,748.8 L359.9,750.1 L361.1,751.5 L362.2,752.8 L363.4,754.1 L364.6,755.4 L365.7,756.8 L366.9,758.1 L368.1,759.4 L369.2,760.7 L370.4,762.0 L371.6,763.4 L372.7,764.7 L373.9,766.0 L375.1,767.3 L376.2,768.6 L377.4,769.9 L378.6,771.2 L379.8,772.5 L381.0,773.8 L382.1,775.1 L383.3,776.4 L384.5,777.7 L385.7,779.0 L386.9,780.3 L388.1,781.6 L389.3,782.9 L390.5,784.2 L391.7,785.5 L392.9,786.7 L394.1,788.0 L395.3,789.3 L396.5,790.6 L397.7,791.9 L398.9,793.2 L400.1,794.4 L401.3,795.7 L402.5,797.0 L403.7,798.3 L404.9,799.5 L406.1,800.8 L407.3,802.1 L408.5,803.4 L409.8,804.6 L411.0,805.9 L412.2,807.2 L413.4,808.4 L414.6,809.7 L415.9,811.0 L417.1,812.2 L418.3,813.5 L419.5,814.7 L420.8,816.0 L422.0,817.3 L423.2,818.5 L424.5,819.8 L425.7,821.0 L426.9,822.3 L428.2,823.5 L429.4,824.8 L430.6,826.1 L431.9,827.3 L433.1,828.6 L434.4,829.8 L435.6,831.1 L436.8,832.3 L438.1,833.6 L439.3,834.8 L440.6,836.1 L441.8,837.3 L443.1,838.5 L444.4,839.8 L445.6,841.0 L446.9,842.3 L448.1,843.5 L449.4,844.7 L450.7,846.0 L451.9,847.2 L453.2,848.4 L454.5,849.6 L455.7,850.9 L457.0,852.1 L458.3,853.3 L459.6,854.5 L460.9,855.7 L462.1,856.9 L463.4,858.2 L464.7,859.4 L466.0,860.6 L467.3,861.8 L468.6,863.0 L469.9,864.2 L471.2,865.4 L472.5,866.6 L473.8,867.7 L475.1,868.9 L476.4,870.1 L477.7,871.3 L479.0,872.5 L480.4,873.6 L481.7,874.8 L483.0,876.0 L484.3,877.2 L485.6,878.3 L487.0,879.5 L488.3,880.6 L489.6,881.8 L491.0,882.9 L492.3,884.1 L493.7,885.2 L495.0,886.3 L496.4,887.5 L497.7,888.6 L499.1,889.7 L500.4,890.8 L501.8,892.0 L503.2,893.1 L504.5,894.2 L505.9,895.3 L507.3,896.4 L508.7,897.5 L510.1,898.6 L511.4,899.7 L512.8,900.7 L514.2,901.8 L515.6,902.9 L517.0,904.0 L518.4,905.0 L519.8,906.1 L521.3,907.1 L522.7,908.2 L524.1,909.2 L525.5,910.2 L526.9,911.2 L528.4,912.3 L529.8,913.3 L531.3,914.3 L532.7,915.3 L534.2,916.2 L535.6,917.2 L537.1,918.2 L538.5,919.1 L540.0,920.1 L541.5,921.0 L543.0,922.0 L544.5,922.9 L546.0,923.8 L547.5,924.7 L549.0,925.6 L550.5,926.5 L552.0,927.3 L553.5,928.2 L555.0,929.1 L556.6,929.9 L558.1,930.7 L559.7,931.5 L561.2,932.3 L562.8,933.1 L564.3,933.9 L565.9,934.7 L567.5,935.4 L569.1,936.1 L570.7,936.9 L572.3,937.6 L573.9,938.3 L575.5,939.0 L577.1,939.6 L578.7,940.3 L580.4,940.9 L582.0,941.6 L583.7,942.2 L585.3,942.8 L587.0,943.3 L588.7,943.9 L590.4,944.4 L592.0,945.0 L593.7,945.5 L595.4,946.0 L597.1,946.5 L598.8,947.0 L600.6,947.5 L602.3,948.0 L604.0,948.4 L605.7,948.9 L607.4,949.4 L609.1,949.8 L610.9,950.3 L612.6,950.7 L614.3,951.2 L616.0,951.6 L617.7,952.0 L619.4,952.5 L621.2,952.9 L622.9,953.4 L624.6,953.9 L626.3,954.3 L628.0,954.8 L629.7,955.3 L631.3,955.8 L633.0,956.3 L634.7,956.8 L636.3,957.3 L638.0,957.8" fill="none" stroke="#a6a6a6" stroke-width="5.0" stroke-linejoin="round" />
<path d="M84.8,549.7 L86.4,550.4 L88.0,551.2 L89.6,552.0 L91.1,553.0 L92.5,553.9 L93.9,555.0 L95.2,556.1 L96.5,557.3 L97.8,558.5 L99.0,559.7 L100.2,561.0 L101.4,562.3 L102.5,563.6 L103.6,565.0 L104.7,566.4 L105.8,567.8 L106.9,569.2 L108.0,570.6 L109.0,572.1 L110.1,573.5 L111.1,574.9 L112.2,576.3 L113.3,577.8 L114.3,579.2 L115.4,580.6 L116.4,582.0 L117.5,583.4 L118.6,584.9 L119.6,586.3 L120.7,587.7 L121.8,589.1 L122.8,590.5 L123.9,591.9 L125.0,593.3 L126.1,594.7 L127.1,596.1 L128.2,597.5 L129.3,598.9 L130.4,600.3 L131.4,601.7 L132.5,603.1 L133.6,604.5 L134.7,605.9 L135.8,607.3 L136.9,608.7 L138.0,610.0 L139.0,611.4 L140.1,612.8 L141.2,614.2 L142.3,615.6 L143.4,616.9 L144.5,618.3 L145.7,619.7 L146.8,621.0 L147.9,622.4 L149.0,623.8 L150.1,625.1 L151.2,626.5 L152.4,627.8 L153.5,629.2 L154.6,630.5 L155.8,631.9 L156.9,633.2 L158.0,634.6 L159.2,635.9 L160.3,637.3 L161.5,638.6 L162.6,640.0 L163.8,641.3 L164.9,642.6 L166.1,644.0 L167.2,645.3 L168.4,646.6 L169.6,648.0 L170.7,649.3 L171.9,650.6 L173.1,651.9 L174.2,653.2 L175.4,654.6 L176.6,655.9 L177.8,657.2 L178.9,658.5 L180.1,659.8 L181.3,661.1 L182.5,662.4 L183.7,663.7 L184.9,665.0 L186.1,666.3 L187.3,667.6 L188.5,668.9 L189.7,670.2 L190.9,671.5 L192.1,672.8 L193.3,674.1 L194.5,675.4 L195.7,676.7 L196.9,678.0 L198.1,679.3 L199.3,680.6 L200.6,681.8 L201.8,683.1 L203.0,684.4 L204.2,685.7 L205.4,687.0 L206.7,688.2 L207.9,689.5 L209.1,690.8 L210.4,692.0 L211.6,693.3 L212.8,694.6 L214.1,695.8 L215.3,697.1 L216.5,698.4 L217.8,699.6 L219.0,700.9 L220.2,702.2 L221.5,703.4 L222.7,704.7 L224.0,705.9 L225.2,707.2 L226.5,708.4 L227.7,709.7 L229.0,710.9 L230.2,712.2 L231.5,713.4 L232.7,714.7 L234.0,715.9 L235.2,717.2 L236.5,718.4 L237.8,719.7 L239.0,720.9 L240.3,722.1 L241.5,723.4 L242.8,724.6 L244.1,725.8 L245.3,727.1 L246.6,728.3 L247.8,729.5 L249.1,730.8 L250.4,732.0 L251.6,733.2 L252.9,734.5 L254.2,735.7 L255.4,736.9 L256.7,738.1 L258.0,739.4 L259.3,740.6 L260.5,741.8 L261.8,743.0 L263.1,744.2 L264.4,745.5 L265.7,746.7 L266.9,747.9 L268.2,749.1 L269.5,750.3 L270.8,751.5 L272.1,752.7 L273.4,753.9 L274.7,755.1 L276.0,756.3 L277.2,757.5 L278.5,758.7 L279.8,759.9 L281.2,761.1 L282.5,762.3 L283.8,763.4 L285.1,764.6 L286.4,765.8 L287.7,767.0 L289.0,768.1 L290.3,769.3 L291.7,770.5 L293.0,771.6 L294.3,772.8 L295.7,774.0 L297.0,775.1 L298.3,776.3 L299.7,777.4 L301.0,778.5 L302.4,779.7 L303.7,780.8 L305.1,781.9 L306.4,783.1 L307.8,784.2 L309.1,785.3 L310.5,786.4 L311.9,787.6 L313.3,788.7 L314.6,789.8 L316.0,790.9 L317.4,792.0 L318.8,793.1 L320.2,794.2 L321.6,795.3 L323.0,796.3 L324.4,797.4 L325.8,798.5 L327.1,799.6 L328.5,800.7 L329.9,801.8 L331.3,802.9 L332.7,803.9 L334.1,805.0 L335.5,806.1 L336.9,807.2 L338.3,808.3 L339.7,809.4 L341.1,810.4 L342.5,811.5 L343.9,812.6 L345.3,813.7 L346.7,814.8 L348.1,815.9 L349.5,817.0 L350.9,818.1 L352.3,819.2 L353.7,820.3 L355.0,821.4 L356.4,822.5 L357.8,823.6 L359.2,824.7 L360.5,825.8 L361.9,826.9 L363.3,828.0 L364.7,829.1 L366.0,830.2 L367.4,831.4 L368.7,832.5 L370.1,833.6 L371.5,834.7 L372.8,835.9 L374.2,837.0 L375.5,838.1 L376.9,839.3 L378.2,840.4 L379.6,841.5 L380.9,842.7 L382.3,843.8 L383.6,845.0 L384.9,846.1 L386.3,847.3 L387.6,848.4 L388.9,849.6 L390.3,850.7 L391.6,851.9 L392.9,853.1 L394.3,854.2 L395.6,855.4 L396.9,856.6 L398.3,857.7 L399.6,858.9 L400.9,860.0 L402.3,861.2 L403.6,862.4 L404.9,863.5 L406.3,864.6 L407.6,865.8 L409.0,866.9 L410.4,868.0 L411.7,869.2 L413.1,870.3 L414.5,871.4 L415.9,872.5 L417.3,873.5 L418.7,874.6 L420.1,875.7 L421.5,876.7 L422.9,877.8 L424.3,878.8 L425.8,879.8 L427.2,880.8 L428.7,881.8 L430.2,882.8 L431.6,883.8 L433.1,884.7 L434.6,885.7 L436.1,886.6 L437.6,887.5 L439.1,888.4 L440.6,889.4 L442.1,890.3 L443.7,891.1 L445.2,892.0 L446.7,892.9 L448.3,893.7 L449.8,894.6 L451.4,895.4 L452.9,896.3 L454.5,897.1 L456.1,897.9 L457.7,898.7 L459.2,899.5 L460.8,900.3 L462.4,901.0 L464.0,901.8 L465.6,902.6 L467.2,903.3 L468.8,904.0 L470.4,904.8 L472.0,905.5 L473.7,906.2 L475.3,906.9 L476.9,907.6 L478.5,908.3 L480.2,909.0 L481.8,909.6 L483.4,910.3 L485.0,911.0 L486.7,911.6 L488.3,912.3 L490.0,912.9 L491.6,913.6 L493.2,914.2 L494.9,914.9 L496.5,915.5 L498.2,916.2 L499.8,916.8 L501.5,917.4 L503.1,918.1 L504.8,918.7 L506.4,919.3 L508.1,920.0 L509.7,920.6 L511.3,921.3 L513.0,921.9 L514.6,922.6 L516.3,923.2 L517.9,923.9 L519.5,924.5 L521.2,925.2 L522.8,925.8 L524.4,926.5 L526.1,927.2 L527.7,927.9 L529.3,928.6 L530.9,929.3 L532.5,930.0 L534.2,930.7 L535.8,931.4 L537.4,932.1 L539.0,932.8 L540.6,933.5 L542.3,934.2 L543.9,934.9 L545.5,935.5 L547.1,936.2 L548.8,936.9 L550.4,937.5 L552.1,938.1 L553.7,938.8 L555.4,939.4 L557.0,940.0 L558.7,940.6 L560.4,941.2 L562.0,941.8 L563.7,942.4 L565.4,943.0 L567.1,943.6 L568.7,944.2 L570.4,944.7 L572.1,945.3 L573.8,945.8 L575.5,946.3 L577.2,946.7 L578.9,947.2 L580.6,947.6 L582.3,948.0 L584.0,948.3 L585.8,948.7 L587.5,949.0 L589.2,949.3 L590.9,949.6 L592.7,949.9 L594.4,950.1 L596.2,950.3 L597.9,950.6 L599.7,950.7 L601.4,950.9 L603.2,951.1 L604.9,951.2 L606.7,951.3 L608.4,951.4 L610.2,951.5 L612.0,951.6 L613.7,951.7 L615.5,951.7 L617.3,951.8 L619.0,951.8 L620.8,951.8 L622.6,951.8 L624.3,951.8 L626.1,951.8 L627.9,951.7 L629.7,951.7 L631.4,951.6 L633.2,951.6 L635.0,951.5 L636.7,951.4 L638.5,951.3" fill="none" stroke="#0072bd" stroke-width="5.2" stroke-linejoin="round" />
<path d="M779.8,553.8 L781.2,554.7 L782.6,555.6 L784.1,556.6 L785.5,557.5 L786.9,558.5 L788.3,559.4 L789.7,560.4 L791.1,561.4 L792.5,562.4 L793.9,563.3 L795.3,564.3 L796.7,565.3 L798.1,566.4 L799.5,567.4 L800.8,568.4 L802.2,569.4 L803.6,570.4 L804.9,571.5 L806.3,572.5 L807.7,573.6 L809.0,574.6 L810.4,575.7 L811.7,576.7 L813.0,577.8 L814.4,578.8 L815.7,579.9 L817.1,581.0 L818.4,582.1 L819.7,583.1 L821.0,584.2 L822.4,585.3 L823.7,586.4 L825.0,587.5 L826.3,588.6 L827.6,589.7 L828.9,590.8 L830.3,591.9 L831.6,593.0 L832.9,594.1 L834.2,595.2 L835.5,596.4 L836.8,597.5 L838.1,598.6 L839.4,599.7 L840.7,600.8 L842.0,602.0 L843.3,603.1 L844.6,604.2 L845.9,605.3 L847.2,606.5 L848.4,607.6 L849.7,608.7 L851.0,609.9 L852.3,611.0 L853.6,612.2 L854.9,613.3 L856.2,614.4 L857.5,615.6 L858.8,616.7 L860.0,617.8 L861.3,619.0 L862.6,620.1 L863.9,621.2 L865.2,622.4 L866.5,623.5 L867.8,624.7 L869.1,625.8 L870.4,626.9 L871.7,628.1 L873.0,629.2 L874.2,630.3 L875.5,631.5 L876.8,632.6 L878.1,633.7 L879.4,634.9 L880.7,636.0 L882.0,637.1 L883.3,638.3 L884.6,639.4 L885.9,640.5 L887.2,641.7 L888.5,642.8 L889.8,643.9 L891.0,645.1 L892.3,646.2 L893.6,647.3 L894.9,648.5 L896.2,649.6 L897.5,650.7 L898.8,651.9 L900.1,653.0 L901.4,654.1 L902.7,655.2 L904.0,656.4 L905.3,657.5 L906.6,658.6 L907.9,659.8 L909.2,660.9 L910.5,662.0 L911.8,663.1 L913.1,664.3 L914.4,665.4 L915.7,666.5 L917.0,667.6 L918.3,668.8 L919.6,669.9 L920.9,671.0 L922.2,672.1 L923.5,673.3 L924.8,674.4 L926.1,675.5 L927.4,676.6 L928.7,677.7 L930.0,678.9 L931.3,680.0 L932.6,681.1 L933.9,682.2 L935.2,683.3 L936.5,684.4 L937.8,685.6 L939.2,686.7 L940.5,687.8 L941.8,688.9 L943.1,690.0 L944.4,691.1 L945.7,692.3 L947.0,693.4 L948.3,694.5 L949.6,695.6 L950.9,696.7 L952.2,697.8 L953.6,698.9 L954.9,700.0 L956.2,701.1 L957.5,702.2 L958.8,703.4 L960.1,704.5 L961.4,705.6 L962.8,706.7 L964.1,707.8 L965.4,708.9 L966.7,710.0 L968.0,711.1 L969.3,712.2 L970.7,713.3 L972.0,714.4 L973.3,715.5 L974.6,716.6 L975.9,717.7 L977.3,718.8 L978.6,719.9 L979.9,721.0 L981.2,722.1 L982.5,723.2 L983.9,724.2 L985.2,725.3 L986.5,726.4 L987.8,727.5 L989.2,728.6 L990.5,729.7 L991.8,730.8 L993.2,731.9 L994.5,733.0 L995.8,734.0 L997.1,735.1 L998.5,736.2 L999.8,737.3 L1001.1,738.4 L1002.5,739.4 L1003.8,740.5 L1005.1,741.6 L1006.5,742.7 L1007.8,743.8 L1009.1,744.8 L1010.5,745.9 L1011.8,747.0 L1013.2,748.1 L1014.5,749.1 L1015.8,750.2 L1017.2,751.3 L1018.5,752.3 L1019.9,753.4 L1021.2,754.5 L1022.5,755.5 L1023.9,756.6 L1025.2,757.7 L1026.6,758.7 L1027.9,759.8 L1029.3,760.8 L1030.6,761.9 L1032.0,763.0 L1033.3,764.0 L1034.6,765.1 L1036.0,766.1 L1037.3,767.2 L1038.7,768.3 L1040.0,769.3 L1041.4,770.4 L1042.8,771.4 L1044.1,772.5 L1045.5,773.5 L1046.8,774.6 L1048.2,775.6 L1049.5,776.7 L1050.9,777.7 L1052.2,778.8 L1053.6,779.8 L1054.9,780.9 L1056.3,781.9 L1057.7,783.0 L1059.0,784.0 L1060.4,785.0 L1061.7,786.1 L1063.1,787.1 L1064.5,788.2 L1065.8,789.2 L1067.2,790.3 L1068.5,791.3 L1069.9,792.3 L1071.3,793.4 L1072.6,794.4 L1074.0,795.5 L1075.3,796.5 L1076.7,797.5 L1078.1,798.6 L1079.4,799.6 L1080.8,800.6 L1082.2,801.7 L1083.5,802.7 L1084.9,803.8 L1086.3,804.8 L1087.6,805.8 L1089.0,806.9 L1090.4,807.9 L1091.7,808.9 L1093.1,810.0 L1094.5,811.0 L1095.8,812.0 L1097.2,813.1 L1098.6,814.1 L1100.0,815.1 L1101.3,816.2 L1102.7,817.2 L1104.1,818.2 L1105.4,819.3 L1106.8,820.3 L1108.2,821.3 L1109.6,822.4 L1110.9,823.4 L1112.3,824.4 L1113.7,825.5 L1115.0,826.5 L1116.4,827.5 L1117.8,828.6 L1119.2,829.6 L1120.5,830.6 L1121.9,831.6 L1123.3,832.7 L1124.7,833.7 L1126.0,834.7 L1127.4,835.8 L1128.8,836.8 L1130.2,837.8 L1131.5,838.9 L1132.9,839.9 L1134.3,840.9 L1135.7,842.0 L1137.0,843.0 L1138.4,844.0 L1139.8,845.1 L1141.2,846.1 L1142.5,847.1 L1143.9,848.2 L1145.3,849.2 L1146.7,850.2 L1148.0,851.3 L1149.4,852.3 L1150.8,853.3 L1152.2,854.4 L1153.6,855.4 L1154.9,856.4 L1156.3,857.5 L1157.7,858.5 L1159.1,859.5 L1160.4,860.6 L1161.8,861.6 L1163.2,862.6 L1164.6,863.7 L1165.9,864.7 L1167.3,865.8 L1168.7,866.8 L1170.1,867.8 L1171.5,868.9 L1172.8,869.9 L1174.2,871.0 L1175.6,872.0 L1177.0,873.0 L1178.3,874.1 L1179.7,875.1 L1181.1,876.2 L1182.5,877.2 L1183.9,878.2 L1185.2,879.3 L1186.6,880.3 L1188.0,881.3 L1189.4,882.4 L1190.8,883.4 L1192.2,884.4 L1193.5,885.5 L1194.9,886.5 L1196.3,887.5 L1197.7,888.5 L1199.1,889.6 L1200.5,890.6 L1201.9,891.6 L1203.3,892.6 L1204.7,893.6 L1206.1,894.6 L1207.5,895.6 L1208.9,896.6 L1210.3,897.6 L1211.7,898.6 L1213.1,899.6 L1214.5,900.6 L1215.9,901.6 L1217.3,902.6 L1218.7,903.6 L1220.1,904.6 L1221.5,905.5 L1223.0,906.5 L1224.4,907.5 L1225.8,908.4 L1227.2,909.4 L1228.7,910.3 L1230.1,911.3 L1231.5,912.2 L1233.0,913.1 L1234.4,914.1 L1235.8,915.0 L1237.3,915.9 L1238.7,916.8 L1240.2,917.7 L1241.6,918.6 L1243.1,919.5 L1244.5,920.4 L1246.0,921.3 L1247.5,922.2 L1248.9,923.0 L1250.4,923.9 L1251.9,924.8 L1253.4,925.6 L1254.9,926.4 L1256.3,927.3 L1257.8,928.1 L1259.3,928.9 L1260.8,929.7 L1262.3,930.6 L1263.8,931.4 L1265.3,932.1 L1266.8,932.9 L1268.4,933.7 L1269.9,934.5 L1271.4,935.2 L1272.9,936.0 L1274.5,936.7 L1276.0,937.4 L1277.6,938.2 L1279.1,938.9 L1280.7,939.6 L1282.2,940.3 L1283.8,941.0 L1285.3,941.7 L1286.9,942.3 L1288.5,943.0 L1290.1,943.6 L1291.7,944.3 L1293.2,944.9 L1294.8,945.5 L1296.4,946.1 L1298.0,946.7 L1299.7,947.3 L1301.3,947.9 L1302.9,948.4 L1304.5,949.0 L1306.2,949.5 L1307.8,950.1 L1309.4,950.6 L1311.1,951.1 L1312.7,951.6 L1314.4,952.1 L1316.1,952.6 L1317.7,953.0 L1319.4,953.5 L1321.1,953.9 L1322.8,954.3 L1324.5,954.7 L1326.2,955.1 L1327.9,955.5 L1329.6,955.9" fill="none" stroke="#a6a6a6" stroke-width="5.0" stroke-linejoin="round" />
<path d="M778.5,554.1 L779.0,556.2 L779.5,558.2 L779.9,560.3 L780.2,562.4 L780.5,564.5 L780.7,566.6 L780.9,568.8 L781.1,570.9 L781.3,573.0 L781.5,575.2 L781.7,577.3 L781.9,579.4 L782.1,581.6 L782.2,583.7 L782.4,585.8 L782.6,588.0 L782.8,590.1 L783.0,592.2 L783.2,594.4 L783.4,596.5 L783.6,598.6 L783.8,600.7 L784.0,602.9 L784.3,605.0 L784.5,607.1 L784.7,609.2 L784.9,611.4 L785.1,613.5 L785.3,615.6 L785.6,617.7 L785.8,619.9 L786.0,622.0 L786.3,624.1 L786.5,626.2 L786.7,628.4 L787.0,630.5 L787.2,632.6 L787.5,634.7 L787.7,636.9 L788.0,639.0 L788.2,641.1 L788.4,643.2 L788.7,645.3 L788.9,647.5 L789.2,649.6 L789.4,651.7 L789.7,653.8 L789.9,656.0 L790.1,658.1 L790.4,660.2 L790.6,662.3 L790.9,664.5 L791.1,666.6 L791.3,668.7 L791.5,670.8 L791.8,673.0 L792.0,675.1 L792.2,677.2 L792.4,679.3 L792.6,681.5 L792.8,683.6 L793.0,685.7 L793.2,687.8 L793.4,690.0 L793.6,692.1 L793.8,694.2 L794.0,696.4 L794.2,698.5 L794.4,700.6 L794.5,702.8 L794.7,704.9 L794.9,707.0 L795.1,709.2 L795.2,711.3 L795.4,713.4 L795.6,715.6 L795.8,717.7 L795.9,719.8 L796.1,721.9 L796.3,724.1 L796.5,726.2 L796.7,728.3 L796.8,730.5 L797.0,732.6 L797.2,734.7 L797.4,736.9 L797.7,739.0 L797.9,741.1 L798.1,743.2 L798.3,745.4 L798.6,747.5 L798.8,749.6 L799.1,751.7 L799.3,753.8 L799.6,756.0 L799.9,758.1 L800.2,760.2 L800.4,762.3 L800.8,764.4 L801.1,766.5 L801.4,768.6 L801.7,770.7 L802.1,772.8 L802.5,774.9 L802.8,777.0 L803.2,779.1 L803.6,781.2 L804.0,783.3 L804.4,785.4 L804.9,787.5 L805.3,789.6 L805.7,791.7 L806.2,793.8 L806.7,795.9 L807.2,798.0 L807.6,800.0 L808.2,802.1 L808.7,804.2 L809.2,806.3 L809.7,808.3 L810.3,810.4 L810.9,812.5 L811.4,814.5 L812.0,816.6 L812.6,818.6 L813.2,820.7 L813.9,822.7 L814.5,824.8 L815.2,826.8 L815.8,828.9 L816.5,830.9 L817.2,832.9 L817.9,834.9 L818.7,836.9 L819.4,838.9 L820.2,840.9 L821.0,842.9 L821.8,844.9 L822.6,846.9 L823.5,848.8 L824.3,850.8 L825.2,852.7 L826.1,854.7 L827.0,856.6 L828.0,858.5 L829.0,860.4 L830.0,862.3 L831.0,864.1 L832.0,866.0 L833.1,867.9 L834.2,869.7 L835.3,871.5 L836.4,873.3 L837.6,875.1 L838.8,876.9 L840.0,878.7 L841.2,880.4 L842.4,882.2 L843.6,884.0 L844.8,885.7 L845.9,887.5 L847.1,889.3 L848.2,891.1 L849.4,892.9 L850.6,894.6 L851.8,896.4 L853.0,898.1 L854.3,899.9 L855.6,901.6 L856.9,903.3 L858.2,905.0 L859.6,906.6 L861.0,908.3 L862.4,909.9 L863.8,911.5 L865.3,913.1 L866.8,914.6 L868.3,916.1 L869.9,917.6 L871.4,919.0 L873.0,920.4 L874.7,921.8 L876.3,923.1 L878.0,924.4 L879.8,925.6 L881.5,926.8 L883.3,928.0 L885.1,929.1 L887.0,930.2 L888.8,931.2 L890.7,932.2 L892.7,933.1 L894.6,934.0 L896.6,934.8 L898.6,935.7 L900.6,936.4 L902.6,937.2 L904.6,937.9 L906.6,938.6 L908.7,939.2 L910.7,939.8 L912.8,940.4 L914.9,941.0 L916.9,941.5 L919.0,942.0 L921.1,942.5 L923.2,943.0 L925.2,943.5 L927.3,943.9 L929.4,944.3 L931.5,944.7 L933.6,945.1 L935.7,945.4 L937.8,945.8 L939.9,946.1 L942.0,946.4 L944.2,946.7 L946.3,947.0 L948.4,947.3 L950.5,947.5 L952.6,947.8 L954.7,948.0 L956.9,948.3 L959.0,948.5 L961.1,948.7 L963.3,949.0 L965.4,949.2 L967.5,949.4 L969.6,949.6 L971.8,949.8 L973.9,950.0 L976.0,950.3 L978.2,950.5 L980.3,950.7 L982.4,950.9 L984.6,951.0 L986.7,951.2 L988.8,951.3 L990.9,951.5 L993.1,951.6 L995.2,951.6 L997.3,951.7 L999.5,951.7 L1001.6,951.7 L1003.7,951.7 L1005.9,951.6 L1008.0,951.5 L1010.1,951.3 L1012.3,951.2 L1014.4,951.0 L1016.5,950.8 L1018.6,950.6 L1020.8,950.3 L1022.9,950.1 L1025.0,949.8 L1027.1,949.5 L1029.3,949.3 L1031.4,949.0 L1033.5,948.7 L1035.6,948.5 L1037.8,948.2 L1039.9,948.0 L1042.0,947.8 L1044.1,947.6 L1046.3,947.5 L1048.4,947.4 L1050.5,947.4 L1052.6,947.4 L1054.8,947.5 L1056.9,947.6 L1059.0,947.7 L1061.2,947.8 L1063.3,948.0 L1065.5,948.1 L1067.6,948.2 L1069.7,948.4 L1071.9,948.5 L1074.0,948.5 L1076.1,948.6 L1078.3,948.6 L1080.4,948.5 L1082.6,948.4 L1084.7,948.2 L1086.8,948.1 L1089.0,947.9 L1091.1,947.7 L1093.2,947.5 L1095.4,947.3 L1097.5,947.2 L1099.6,947.1 L1101.7,947.0 L1103.9,947.0 L1106.0,947.0 L1108.1,947.1 L1110.3,947.3 L1112.4,947.4 L1114.5,947.6 L1116.7,947.8 L1118.8,948.0 L1120.9,948.1 L1123.1,948.3 L1125.2,948.4 L1127.3,948.5 L1129.5,948.5 L1131.6,948.5 L1133.7,948.5 L1135.9,948.5 L1138.0,948.4 L1140.1,948.3 L1142.3,948.2 L1144.4,948.1 L1146.6,947.9 L1148.7,947.8 L1150.8,947.6 L1153.0,947.5 L1155.1,947.3 L1157.3,947.1 L1159.4,947.0 L1161.5,946.8 L1163.7,946.7 L1165.8,946.5 L1168.0,946.4 L1170.1,946.3 L1172.2,946.2 L1174.4,946.1 L1176.5,946.0 L1178.6,946.0 L1180.8,946.0 L1182.9,946.0 L1185.0,946.1 L1187.1,946.2 L1189.3,946.4 L1191.4,946.5 L1193.5,946.7 L1195.6,947.0 L1197.8,947.2 L1199.9,947.5 L1202.0,947.8 L1204.1,948.1 L1206.2,948.3 L1208.4,948.6 L1210.5,948.9 L1212.6,949.1 L1214.7,949.4 L1216.9,949.6 L1219.0,949.8 L1221.1,949.9 L1223.2,950.0 L1225.4,950.1 L1227.5,950.2 L1229.6,950.3 L1231.8,950.3 L1233.9,950.4 L1236.0,950.5 L1238.2,950.5 L1240.3,950.6 L1242.4,950.8 L1244.6,950.9 L1246.7,951.1 L1248.8,951.3 L1250.9,951.5 L1253.1,951.7 L1255.2,952.0 L1257.3,952.2 L1259.4,952.5 L1261.6,952.7 L1263.7,953.0 L1265.8,953.2 L1267.9,953.4 L1270.1,953.5 L1272.2,953.6 L1274.3,953.7 L1276.5,953.8 L1278.6,953.8 L1280.7,953.8 L1282.9,953.7 L1285.0,953.7 L1287.1,953.6 L1289.3,953.4 L1291.4,953.3 L1293.5,953.2 L1295.7,953.0 L1297.8,952.9 L1300.0,952.7 L1302.1,952.5 L1304.2,952.4 L1306.4,952.2 L1308.5,952.1 L1310.6,952.0 L1312.8,951.9 L1314.9,951.8 L1317.0,951.8 L1319.2,951.7 L1321.3,951.6 L1323.4,951.5 L1325.5,951.3 L1327.7,951.0 L1329.8,950.6 L1331.9,950.1" fill="none" stroke="#0072bd" stroke-width="5.2" stroke-linejoin="round" />
<text x="117.00" y="478.90" font-size="20.5" text-anchor="middle" font-weight="bold" fill="#262626" >-150</text>
<text x="199.40" y="478.90" font-size="20.5" text-anchor="middle" font-weight="bold" fill="#262626" >-100</text>
<text x="281.80" y="478.90" font-size="20.5" text-anchor="middle" font-weight="bold" fill="#262626" >-50</text>
<text x="364.20" y="478.90" font-size="20.5" text-anchor="middle" font-weight="bold" fill="#262626" >0</text>
<text x="446.60" y="478.90" font-size="20.5" text-anchor="middle" font-weight="bold" fill="#262626" >50</text>
<text x="529.00" y="478.90" font-size="20.5" text-anchor="middle" font-weight="bold" fill="#262626" >100</text>
<text x="611.40" y="478.90" font-size="20.5" text-anchor="middle" font-weight="bold" fill="#262626" >150</text>
<text x="74.40" y="460.71" font-size="20.5" text-anchor="end" font-weight="bold" fill="#262626" >3</text>
<text x="74.40" y="335.05" font-size="20.5" text-anchor="end" font-weight="bold" fill="#262626" >3.5</text>
<text x="74.40" y="226.20" font-size="20.5" text-anchor="end" font-weight="bold" fill="#262626" >4</text>
<text x="74.40" y="130.19" font-size="20.5" text-anchor="end" font-weight="bold" fill="#262626" >4.5</text>
<text x="74.40" y="44.30" font-size="20.5" text-anchor="end" font-weight="bold" fill="#262626" >5</text>
<text x="368.70" y="506.90" font-size="22" text-anchor="middle" font-weight="bold" fill="#262626" >Fluid Velocity</text>
<text transform="translate(37.2,244.4) rotate(-90)" font-size="22" text-anchor="middle" font-weight="bold" fill="#262626">PDF</text>
<text transform="translate(82.79,34.02) scale(0.2449,0.2202)" font-size="100" font-weight="normal" fill="#262626">×</text>
<text transform="translate(98.29,31.41) scale(0.2107,0.1893)" font-size="100" font-weight="bold" fill="#262626">10</text>
<text transform="translate(121.74,21.65) scale(0.1661,0.1540)" font-size="100" font-weight="bold" fill="#262626">-3</text>
<text x="847.80" y="480.30" font-size="20.5" text-anchor="middle" font-weight="bold" fill="#262626" >-10</text>
<text x="958.80" y="480.30" font-size="20.5" text-anchor="middle" font-weight="bold" fill="#262626" >-5</text>
<text x="1069.80" y="480.30" font-size="20.5" text-anchor="middle" font-weight="bold" fill="#262626" >0</text>
<text x="1180.80" y="480.30" font-size="20.5" text-anchor="middle" font-weight="bold" fill="#262626" >5</text>
<text x="1291.80" y="480.30" font-size="20.5" text-anchor="middle" font-weight="bold" fill="#262626" >10</text>
<text transform="translate(731.75,464.30) scale(0.2102,0.1977)" font-size="100" font-weight="bold" fill="#262626">10</text>
<text transform="translate(754.86,453.94) scale(0.1604,0.1562)" font-size="100" font-weight="bold" fill="#262626">-5</text>
<text transform="translate(731.75,381.56) scale(0.2102,0.1977)" font-size="100" font-weight="bold" fill="#262626">10</text>
<text transform="translate(754.86,371.36) scale(0.1604,0.1584)" font-size="100" font-weight="bold" fill="#262626">-4</text>
<text transform="translate(731.75,298.82) scale(0.2102,0.1977)" font-size="100" font-weight="bold" fill="#262626">10</text>
<text transform="translate(754.85,288.47) scale(0.1624,0.1540)" font-size="100" font-weight="bold" fill="#262626">-3</text>
<text transform="translate(731.75,216.08) scale(0.2102,0.1977)" font-size="100" font-weight="bold" fill="#262626">10</text>
<text transform="translate(754.85,205.88) scale(0.1630,0.1562)" font-size="100" font-weight="bold" fill="#262626">-2</text>
<text transform="translate(731.75,133.34) scale(0.2102,0.1977)" font-size="100" font-weight="bold" fill="#262626">10</text>
<text transform="translate(754.86,123.14) scale(0.1604,0.1584)" font-size="100" font-weight="bold" fill="#262626">-1</text>
<text transform="translate(738.49,50.50) scale(0.2107,0.2048)" font-size="100" font-weight="bold" fill="#262626">10</text>
<text transform="translate(762.30,40.73) scale(0.1495,0.1695)" font-size="100" font-weight="bold" fill="#262626">0</text>
<text x="1068.50" y="512.60" font-size="22" text-anchor="middle" font-weight="bold" fill="#262626" >Fluid Velocity</text>
<text transform="translate(723.2,246.5) rotate(-90)" font-size="22" text-anchor="middle" font-weight="bold" fill="#262626">PDF</text>
<text x="82.50" y="984.80" font-size="21.4" text-anchor="middle" font-weight="bold" fill="#262626" >0</text>
<text x="193.70" y="984.80" font-size="21.4" text-anchor="middle" font-weight="bold" fill="#262626" >50</text>
<text x="304.90" y="984.80" font-size="21.4" text-anchor="middle" font-weight="bold" fill="#262626" >100</text>
<text x="416.10" y="984.80" font-size="21.4" text-anchor="middle" font-weight="bold" fill="#262626" >150</text>
<text x="527.30" y="984.80" font-size="21.4" text-anchor="middle" font-weight="bold" fill="#262626" >200</text>
<text x="638.50" y="984.80" font-size="21.4" text-anchor="middle" font-weight="bold" fill="#262626" >250</text>
<text x="75.10" y="965.20" font-size="21.8" text-anchor="end" font-weight="bold" fill="#262626" >0</text>
<text x="75.10" y="883.80" font-size="21.8" text-anchor="end" font-weight="bold" fill="#262626" >0.2</text>
<text x="75.10" y="802.40" font-size="21.8" text-anchor="end" font-weight="bold" fill="#262626" >0.4</text>
<text x="75.10" y="721.00" font-size="21.8" text-anchor="end" font-weight="bold" fill="#262626" >0.6</text>
<text x="75.10" y="639.60" font-size="21.8" text-anchor="end" font-weight="bold" fill="#262626" >0.8</text>
<text x="75.10" y="558.20" font-size="21.8" text-anchor="end" font-weight="bold" fill="#262626" >1</text>
<text x="349.75" y="1020.70" font-size="23.5" text-anchor="middle" font-weight="bold" fill="#262626" >Distance</text>
<text transform="translate(21.3,748.2) rotate(-90)" font-size="23.4" text-anchor="middle" font-weight="bold" fill="#262626">Velocity Spatial Correlation</text>
<text x="775.90" y="982.00" font-size="20" text-anchor="middle" font-weight="bold" fill="#262626" >0</text>
<text x="887.08" y="982.00" font-size="20" text-anchor="middle" font-weight="bold" fill="#262626" >50</text>
<text x="998.26" y="982.00" font-size="20" text-anchor="middle" font-weight="bold" fill="#262626" >100</text>
<text x="1109.44" y="982.00" font-size="20" text-anchor="middle" font-weight="bold" fill="#262626" >150</text>
<text x="1220.62" y="982.00" font-size="20" text-anchor="middle" font-weight="bold" fill="#262626" >200</text>
<text x="1331.80" y="982.00" font-size="20" text-anchor="middle" font-weight="bold" fill="#262626" >250</text>
<text x="769.50" y="959.50" font-size="20.4" text-anchor="end" font-weight="bold" fill="#262626" >0</text>
<text x="769.50" y="879.10" font-size="20.4" text-anchor="end" font-weight="bold" fill="#262626" >0.2</text>
<text x="769.50" y="798.70" font-size="20.4" text-anchor="end" font-weight="bold" fill="#262626" >0.4</text>
<text x="769.50" y="718.30" font-size="20.4" text-anchor="end" font-weight="bold" fill="#262626" >0.6</text>
<text x="769.50" y="637.90" font-size="20.4" text-anchor="end" font-weight="bold" fill="#262626" >0.8</text>
<text x="769.50" y="557.50" font-size="20.4" text-anchor="end" font-weight="bold" fill="#262626" >1</text>
<text x="1037.50" y="1021.40" font-size="22.3" text-anchor="middle" font-weight="bold" fill="#262626" >Distance</text>
<text transform="translate(727.1,756.5) rotate(-90)" font-size="22.5" text-anchor="middle" font-weight="bold" fill="#262626">Vorticity Correlation Function</text>
<text transform="translate(-0.23,28.72) scale(0.4098,0.3803)" font-size="100" font-weight="bold" fill="#000" stroke="#000" stroke-width="2.532" stroke-linejoin="round">a</text>
<text transform="translate(27.38,28.22) scale(0.3907,0.3906)" font-size="100" font-weight="bold" fill="#000" stroke="#000" stroke-width="2.560" stroke-linejoin="round">)</text>
<text transform="translate(684.38,28.01) scale(0.4337,0.3932)" font-size="100" font-weight="bold" fill="#000" stroke="#000" stroke-width="2.419" stroke-linejoin="round">b</text>
<text transform="translate(712.89,28.32) scale(0.3692,0.3906)" font-size="100" font-weight="bold" fill="#000" stroke="#000" stroke-width="2.633" stroke-linejoin="round">)</text>
<text transform="translate(-0.85,550.42) scale(0.4620,0.3803)" font-size="100" font-weight="bold" fill="#000" stroke="#000" stroke-width="2.375" stroke-linejoin="round">c</text>
<text transform="translate(27.38,550.52) scale(0.3907,0.3906)" font-size="100" font-weight="bold" fill="#000" stroke="#000" stroke-width="2.560" stroke-linejoin="round">)</text>
<text transform="translate(685.50,550.05) scale(0.4238,0.3524)" font-size="100" font-weight="bold" fill="#000" stroke="#000" stroke-width="2.577" stroke-linejoin="round">d</text>
<text transform="translate(713.99,550.92) scale(0.3620,0.3616)" font-size="100" font-weight="bold" fill="#000" stroke="#000" stroke-width="2.764" stroke-linejoin="round">)</text></svg>
</body></html>
